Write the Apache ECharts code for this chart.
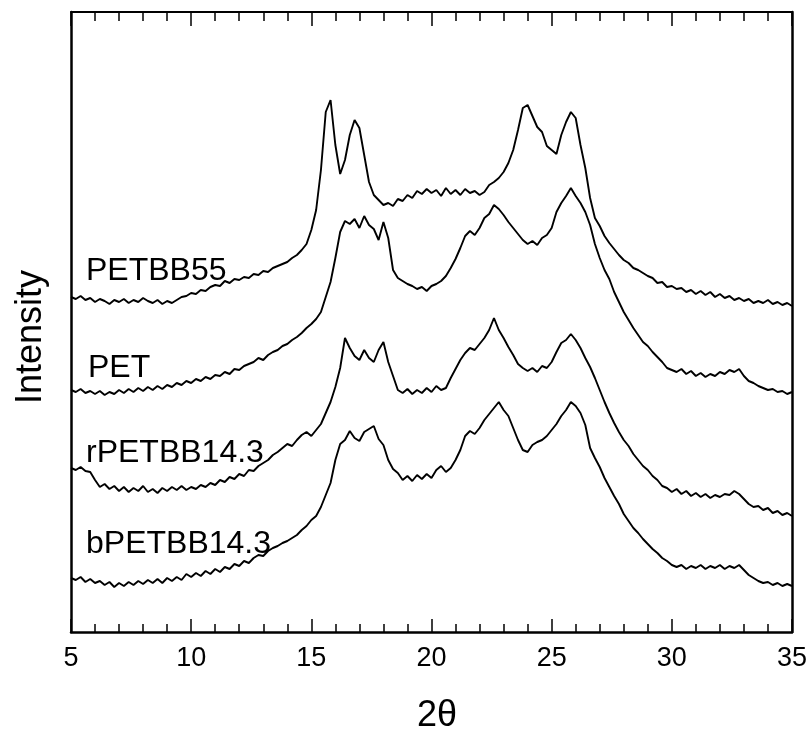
<!DOCTYPE html>
<html>
<head>
<meta charset="utf-8">
<script src="https://cdn.jsdelivr.net/npm/echarts@6/dist/echarts.min.js"></script>
<style>html,body{margin:0;padding:0;background:#fff;}#c{width:810px;height:734px;}</style>
</head>
<body>
<div id="c"></div>
<script>
// 2θ sample positions: 5.0 to 35.0, step 0.2
var thetaStart = 5, thetaStep = 0.2, nPts = 151;
var xTicks = [5, 10, 15, 20, 25, 30, 35];
var seriesNames = ['PETBB55', 'PET', 'rPETBB14.3', 'bPETBB14.3'];

var petbb55 = [
335,333,336,332,334,330,333,331,328,332,
330,333,329,332,330,334,331,329,332,328,
331,329,332,335,336,339,338,342,341,345,
347,346,351,349,353,352,355,354,358,357,
361,360,364,366,368,370,374,377,382,388,
402,422,462,520,532,487,458,472,497,512,
504,477,450,437,432,427,429,426,433,431,
437,434,441,438,443,439,442,436,444,438,
442,437,443,439,441,437,440,447,450,454,
460,469,482,502,524,527,516,505,500,486,
482,478,497,510,520,514,487,464,434,414,
406,396,389,383,377,372,369,364,362,359,
356,354,349,350,345,346,343,344,340,342,
338,341,337,340,335,338,334,336,332,334,
331,333,329,331,329,332,328,330,327,329,
326];

var pet = [
242,240,243,239,241,238,241,237,240,238,
242,239,243,240,244,241,245,242,246,243,
247,245,249,247,251,249,253,251,255,253,
257,256,260,258,263,262,266,268,270,274,
272,277,280,282,286,288,292,295,299,304,
308,313,320,335,350,374,400,411,408,413,
404,416,407,403,392,410,394,362,354,351,
348,346,343,345,341,346,348,351,356,364,
373,384,396,401,397,404,414,418,427,423,
417,410,404,398,392,388,391,387,394,397,
404,420,429,436,444,436,429,420,407,388,
374,362,353,340,330,320,312,304,297,290,
286,280,275,270,264,262,260,263,258,261,
256,259,255,258,256,260,258,262,260,263,
256,251,249,246,244,242,243,240,241,238,
240];

var rpetbb = [
164,162,165,161,160,152,145,148,143,146,
141,145,140,144,141,146,140,143,139,144,
141,145,142,146,142,145,143,147,145,149,
147,152,150,155,153,158,156,162,161,166,
169,172,177,180,184,188,186,192,197,200,
196,202,208,219,230,245,264,294,284,276,
272,282,274,270,282,290,270,256,242,239,
243,238,242,239,244,240,246,242,244,254,
263,272,279,284,282,288,294,302,314,302,
294,285,277,268,264,261,264,260,266,264,
270,280,289,292,298,292,284,274,265,254,
242,230,219,209,200,192,186,178,172,166,
162,156,152,146,144,140,143,138,141,136,
139,135,138,134,137,135,138,137,141,138,
133,128,125,126,122,124,119,121,117,119,
116];

var bpetbb = [
54,52,55,50,53,49,51,47,50,45,
49,46,50,47,51,48,52,49,53,49,
54,51,55,52,58,55,59,56,61,58,
63,60,65,63,68,66,71,69,74,77,
76,81,84,86,89,91,94,97,102,106,
112,116,125,137,149,172,188,192,201,194,
191,200,203,206,193,187,172,163,159,152,
156,151,157,153,158,154,162,166,160,164,
172,182,196,201,198,204,212,218,224,230,
222,216,204,192,182,180,187,190,192,196,
202,208,216,222,230,226,219,207,184,174,
165,154,145,136,128,118,111,104,99,93,
88,83,79,74,71,67,65,67,63,66,
64,67,63,66,64,67,63,66,64,67,
62,57,54,51,49,50,47,49,46,48,
46];

var FONT = '"Liberation Sans", Arial, Helvetica, sans-serif';

function pairs(vals) {
  var out = [];
  for (var i = 0; i < vals.length; i++) {
    out.push([+(thetaStart + thetaStep * i).toFixed(2), vals[i]]);
  }
  return out;
}

var allVals = [petbb55, pet, rpetbb, bpetbb];
var series = allVals.map(function (v, k) {
  return {
    name: seriesNames[k],
    type: 'line',
    data: pairs(v),
    showSymbol: false,
    symbol: 'none',
    animation: false,
    lineStyle: { color: '#000', width: 1.9 },
    xAxisIndex: 0, yAxisIndex: 0
  };
});

var chart = echarts.init(document.getElementById('c'), null, { renderer: 'canvas' });
chart.setOption({
  backgroundColor: '#fff',
  animation: false,
  grid: { left: 71, top: 12, right: 15, bottom: 102, show: false },
  xAxis: [{
    type: 'value', position: 'bottom', min: 5, max: 35, interval: 5,
    axisLine: { show: true, lineStyle: { color: '#000', width: 2.5 } },
    axisTick: { show: true, inside: true, length: 13, lineStyle: { color: '#000', width: 1.5 } },
    minorTick: { show: true, splitNumber: 5, length: 8, lineStyle: { color: '#000', width: 1.5 } },
    axisLabel: { color: '#000', fontSize: 27, fontFamily: FONT, margin: 13,
      formatter: function (v) { return xTicks.indexOf(v) >= 0 ? String(v) : ''; } },
    splitLine: { show: false }
  }, {
    type: 'value', position: 'top', min: 5, max: 35, interval: 5,
    axisLine: { show: true, onZero: false, lineStyle: { color: '#000', width: 2 } },
    axisTick: { show: true, inside: true, length: 14, lineStyle: { color: '#000', width: 1.5 } },
    minorTick: { show: true, splitNumber: 5, length: 9, lineStyle: { color: '#000', width: 1.5 } },
    axisLabel: { show: false },
    splitLine: { show: false }
  }],
  yAxis: [{
    type: 'value', position: 'left', min: 0, max: 620,
    axisLine: { show: true, onZero: false, lineStyle: { color: '#000', width: 2.5 } },
    axisTick: { show: false }, axisLabel: { show: false }, splitLine: { show: false }
  }, {
    type: 'value', position: 'right', min: 0, max: 620,
    axisLine: { show: true, onZero: false, lineStyle: { color: '#000', width: 2.5 } },
    axisTick: { show: false }, axisLabel: { show: false }, splitLine: { show: false }
  }],
  graphic: [
    { type: 'text', left: 86, top: 255, style: { text: seriesNames[0], font: '32px ' + FONT, fill: '#000' } },
    { type: 'text', left: 88, top: 352, style: { text: seriesNames[1], font: '32px ' + FONT, fill: '#000' } },
    { type: 'text', left: 86, top: 437, style: { text: seriesNames[2], font: '32px ' + FONT, fill: '#000' } },
    { type: 'text', left: 86, top: 528, style: { text: seriesNames[3], font: '32px ' + FONT, fill: '#000' } },
    { type: 'text', x: 31, y: 337, rotation: Math.PI / 2,
      style: { text: 'Intensity', font: '36px ' + FONT, fill: '#000', textAlign: 'center', textVerticalAlign: 'middle' } },
    { type: 'text', x: 437, y: 716,
      style: { text: '2θ', font: '36px ' + FONT, fill: '#000', textAlign: 'center', textVerticalAlign: 'middle' } }
  ],
  series: series
});
</script>
</body>
</html>
